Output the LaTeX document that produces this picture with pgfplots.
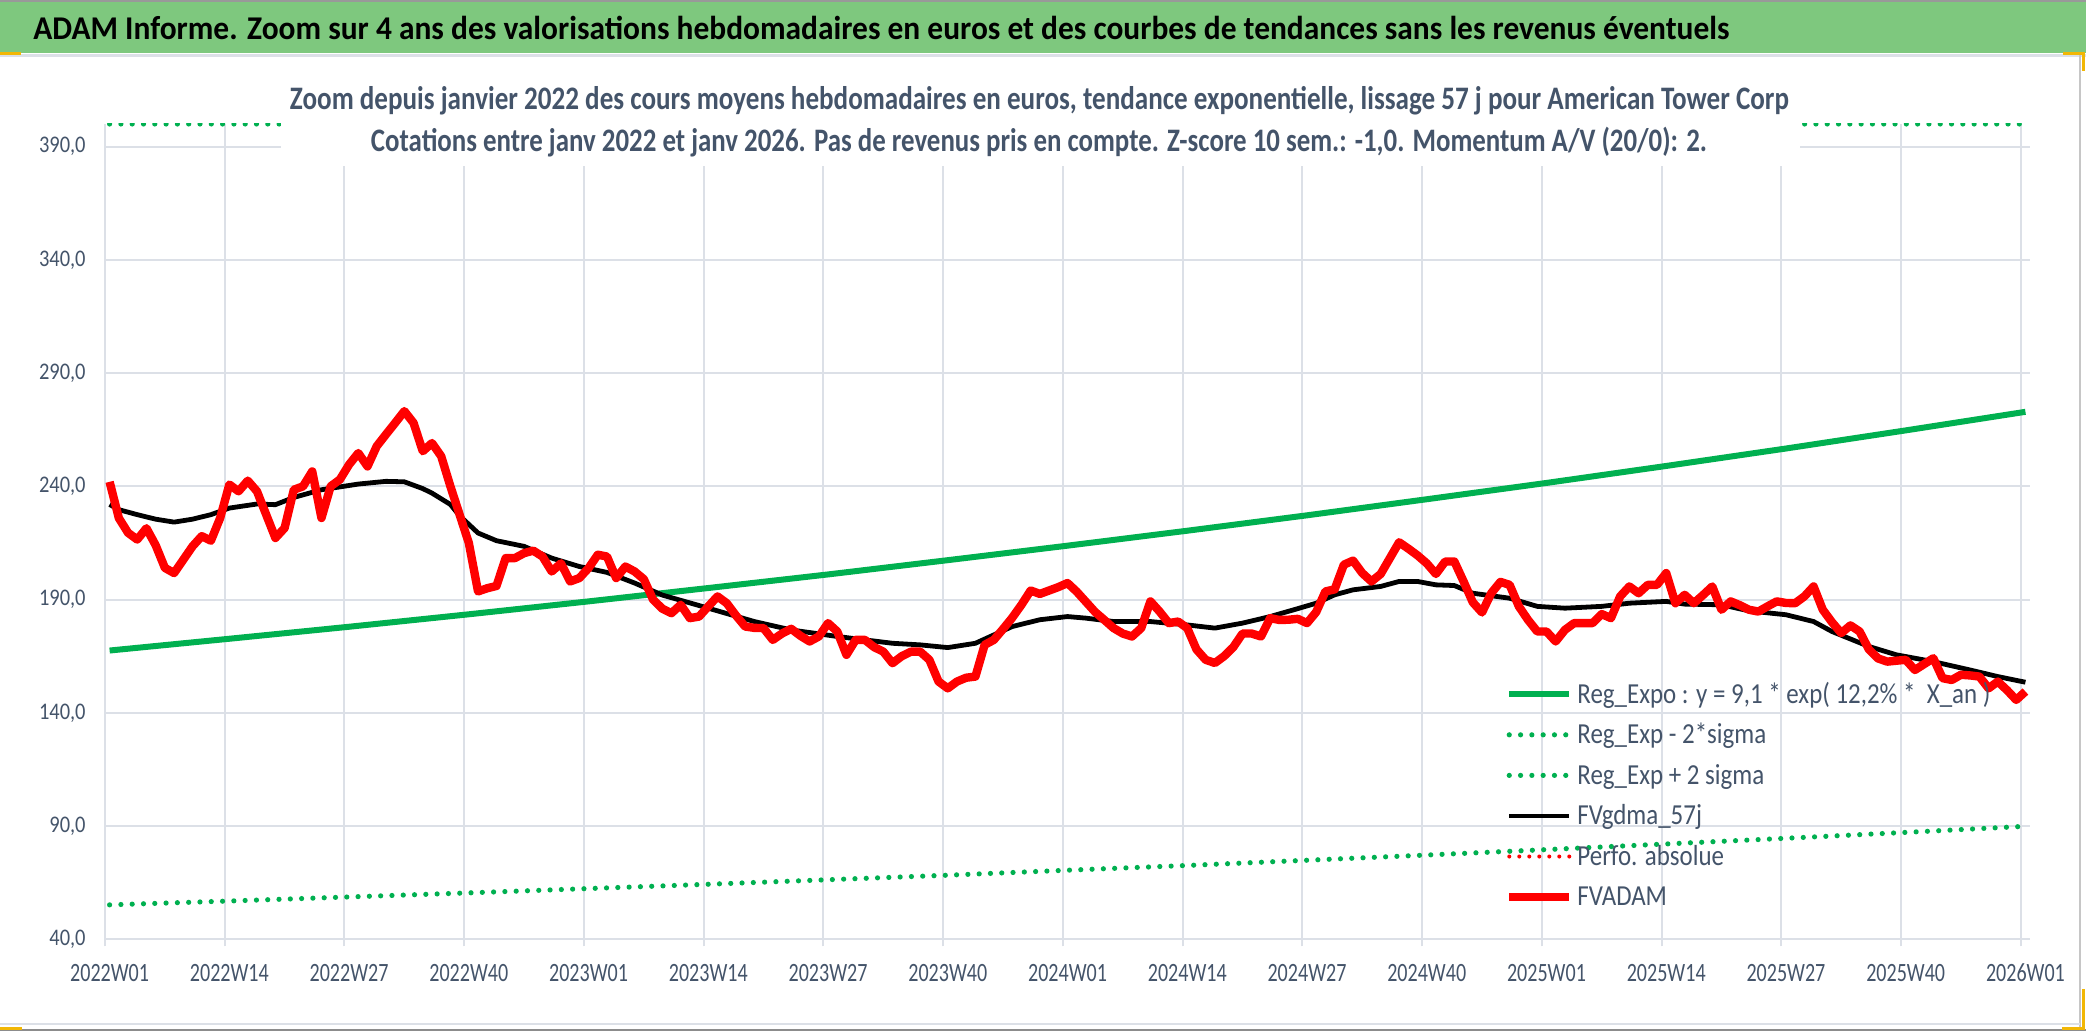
\documentclass[border=0pt]{standalone}
\usepackage{fontspec}
\setmainfont{Carlito}
\newfontfamily\legfont[FakeStretch=0.86]{Carlito}
\newfontfamily\ytfont[FakeStretch=0.86]{Carlito}
\newfontfamily\xtfont[FakeStretch=0.76]{Carlito}
\usepackage{graphicx}
\usepackage{pgfplots}
\pgfplotsset{compat=1.18}
\definecolor{banner}{HTML}{7EC87E}
\definecolor{txtgray}{HTML}{44546A}
\definecolor{gridc}{HTML}{DCE0E7}
\definecolor{xlgreen}{HTML}{00B050}
\definecolor{handle}{HTML}{F2B705}
\begin{document}
\begin{tikzpicture}[x=1bp,y=1bp]
\useasboundingbox (0,0) rectangle (1043,515.5);
\fill[white] (0,0) rectangle (1043,515.5);
% banner
\fill[banner] (0,489.2) rectangle (1043,515.5);
\draw[gray!80, line width=1bp] (0,515) -- (1043,515);
\draw[gridc, line width=1.5bp] (0,487.8) -- (1043,487.8);
\draw[gray!45, line width=1bp] (1040,488) -- (1040,1);
\draw[gridc, line width=1.2bp] (0,3.5) -- (1040,3.5);
\draw[gray!90, line width=1bp] (0,0.5) -- (1043,0.5);
\node[anchor=base west, inner sep=0pt] at (16.5,495.85)
  {\resizebox{848bp}{\height}{\fontsize{16.6bp}{18bp}\selectfont\bfseries ADAM Informe. Zoom sur 4 ans des valorisations hebdomadaires en euros et des courbes de tendances sans les revenus éventuels}};

\begin{axis}[
  at={(52.5bp,45.85bp)}, anchor=south west,
  scale only axis, width=962.5bp, height=407.65bp,
  xmin=-0.5, xmax=208.5, ymin=40, ymax=400,
  clip=true,
  axis line style={draw=none},
  tick pos=left, tick align=inside, major tick length=3.5bp,
  xtick={-0.5,12.5,...,207.5},
  xticklabels={},
  xtick style={gridc, line width=1bp, yshift=-3.5bp},
  ytick={40,90,...,390},
  ytick style={draw=none},
  xmajorgrids, ymajorgrids,
  major grid style={gridc, line width=1bp},
  extra x ticks={0,13,...,208},
  extra x tick labels={2022W01,2022W14,2022W27,2022W40,2023W01,2023W14,2023W27,2023W40,2024W01,2024W14,2024W27,2024W40,2025W01,2025W14,2025W27,2025W40,2026W01},
  extra x tick style={grid=none, major tick length=0pt,
    xticklabel style={anchor=base, inner sep=0pt, yshift=-20.9bp, text=txtgray, font=\xtfont\fontsize{13.2bp}{14bp}\selectfont}},
  yticklabel style={/pgf/number format/.cd, fixed, fixed zerofill, precision=1, use comma, assume math mode=true, /tikz/.cd,
    anchor=east, inner sep=0pt, xshift=-9.5bp, text=txtgray, font=\ytfont\fontsize{11.9bp}{13bp}\selectfont},
  legend cell align=left,
  legend style={at={(0.7273,0.3205)}, anchor=north west, draw=none, fill=none,
    inner sep=0pt, outer sep=0pt, row sep=4.4bp, column sep=0bp,
    font=\legfont\fontsize{14.5bp}{15bp}\selectfont\rule[-3.6bp]{0pt}{14bp}, text=txtgray},
  legend image code/.code={\draw[#1] (0bp,0bp) -- (30bp,0bp);},
]
% Reg_Expo
\addplot[xlgreen, line width=3bp] coordinates {
(0,167.5)(13,172.7)(26,178.0)(39,183.5)(52,189.2)(65,195.1)(78,201.1)(91,207.4)(104,213.8)(117,220.4)(130,227.2)(143,234.3)(156,241.5)(169,249.0)(182,256.7)(195,264.7)(208,272.9)};
\addlegendentry{Reg\_Expo : y = 9,1 * exp( 12,2\% *~ X\_an )}
% Reg_Exp - 2 sigma
\addplot[xlgreen, line width=2.6bp, line cap=round, dash pattern=on 0bp off 5.65bp] coordinates {
(0,55.2)(13,56.9)(26,58.7)(39,60.5)(52,62.4)(65,64.3)(78,66.3)(91,68.3)(104,70.5)(117,72.6)(130,74.9)(143,77.2)(156,79.6)(169,82.1)(182,84.6)(195,87.2)(208,89.9)};
\addlegendentry{Reg\_Exp - 2*sigma}
% Reg_Exp + 2 sigma (drawn at the top edge of the plot area)
\addplot[xlgreen, line width=2.6bp, line cap=round, dash pattern=on 0bp off 5.65bp] coordinates {
(0,400)(52,400)(104,400)(156,400)(208,400)};
\addlegendentry{Reg\_Exp + 2 sigma}
% FVgdma_57j
\addplot[black, line width=2.4bp, line join=round] coordinates {
(0,232)(1,229.7)(3,227.5)(5,225.5)(7,224.2)(9,225.5)(11,227.5)(13,230.4)(16,232.2)(18,231.9)(20,235.1)(23,238.5)(27,241)(30,242.2)(32,242)(34,239)(35,237)(37,232)(38,227)(40,219.4)(42,216)(45,213.5)(48,208.3)(51,204.6)(54,202)(57,197.3)(60,192)(65,186.2)(70,180.3)(74,176.6)(79,173.7)(85,170.7)(88,170)(91,168.8)(94,170.7)(96,174.4)(98,178.1)(101,181.1)(104,182.5)(106,181.8)(109,180.3)(113,180.3)(117,178.8)(120,177.4)(123,179.6)(126,182.5)(129,186)(131,188.4)(133,192.1)(135,194.3)(138,195.8)(140,198)(142,198)(144,196.5)(146,196.2)(148,192.8)(152,190.6)(155,187)(158,186.2)(162,187)(165,188.4)(169,189.2)(171,188)(175,187.7)(178,185)(182,183.3)(185,180.3)(187,175.9)(191,169.3)(194,165.6)(198,162.6)(202,158.9)(205,156)(208,153.5)};
\addlegendentry{FVgdma\_57j}
\addlegendimage{red, line width=2bp, line cap=round, dash pattern=on 0bp off 5bp}
\addlegendentry{Perfo. absolue}
% FVADAM
\addplot[red, line width=4.2bp, line join=round] coordinates {
(0,242)(1,226)(2,219.5)(3,216.5)(4,221.5)(5,214)(6,204)(7,201.7)(8,207.6)(9,213.5)(10,218)(11,216)(12,226)(13,240.8)(14,237.8)(15,242.5)(16,237.8)(17,227.5)(18,217.2)(19,221.6)(20,238.5)(21,240)(22,246.6)(23,226)(24,240)(25,243)(26,249.6)(27,254.7)(28,248.8)(29,257.7)(30,262.9)(31,268)(32,273.2)(33,268)(34,255.5)(35,259.1)(36,253.3)(37,240)(38,227.5)(39,215)(40,193.6)(41,195)(42,196)(43,208.3)(44,208.3)(45,210.5)(46,211.6)(47,209)(48,202.4)(49,206)(50,198)(51,199.5)(52,203.9)(53,209.8)(54,209)(55,199.5)(56,204.6)(57,202.4)(58,199)(59,190)(60,186)(61,184)(62,187.7)(63,181.8)(64,182.5)(65,187)(66,191.4)(67,188.4)(68,183)(69,178.1)(70,177.5)(71,177.4)(72,172.2)(73,175)(74,177.1)(75,174)(76,171.5)(77,173.7)(78,179.6)(79,175.9)(80,165.6)(81,172.2)(82,172.2)(83,169)(84,167)(85,161.9)(86,165)(87,167)(88,167)(89,163.4)(90,153.8)(91,150.8)(92,153.8)(93,155.5)(94,156)(95,170)(96,172.2)(97,177)(98,182)(99,187.7)(100,194)(101,192.5)(102,194)(103,195.5)(104,197.3)(105,193.5)(106,189)(107,184.5)(108,181)(109,177.4)(110,175)(111,173.7)(112,177.4)(113,189.2)(114,184.7)(115,179.6)(116,180.3)(117,177.4)(118,168)(119,163.4)(120,162)(121,165)(122,169)(123,175)(124,175)(125,173.7)(126,181.8)(127,181)(128,181.1)(129,181.5)(130,179.6)(131,184.5)(132,193.6)(133,194.5)(134,205.4)(135,207.2)(136,201.7)(137,198)(138,201.3)(139,208.3)(140,215.3)(141,212.5)(142,209.5)(143,206)(144,201.3)(145,206.8)(146,206.8)(147,198)(148,188.8)(149,184.3)(150,192.8)(151,197.8)(152,196.5)(153,187)(154,181)(155,175.9)(156,175.9)(157,171.5)(158,176.6)(159,179.6)(160,179.6)(161,179.6)(162,183.6)(163,181.8)(164,191.4)(165,195.8)(166,192.8)(167,196.5)(168,196.5)(169,201.7)(170,188.4)(171,192.1)(172,188.4)(173,192)(174,195.8)(175,185.5)(176,189.2)(177,187.5)(178,185.5)(179,184.7)(180,187)(181,189.2)(182,188.5)(183,188.4)(184,191.4)(185,195.8)(186,185.5)(187,180)(188,175.2)(189,178.6)(190,175.9)(191,168)(192,164)(193,162.6)(194,163)(195,163.4)(196,158.9)(197,161.5)(198,164.1)(199,155.3)(200,154.5)(201,156.8)(202,156.5)(203,156)(204,150.8)(205,153.8)(206,150)(207,145.7)(208,149.4)};
\addlegendentry{FVADAM}
\end{axis}

% subtitle box over the plot
\fill[white] (140.5,432.5) rectangle (900,480.5);
\node[anchor=base, inner sep=0pt, text=txtgray] at (519.75,460.5)
  {\resizebox{749.5bp}{\height}{\fontsize{16.4bp}{18bp}\selectfont\bfseries Zoom depuis janvier 2022 des cours moyens hebdomadaires en euros, tendance exponentielle, lissage 57 j pour American Tower Corp}};
\node[anchor=base, inner sep=0pt, text=txtgray] at (519.5,439.65)
  {\resizebox{668bp}{\height}{\fontsize{16.4bp}{18bp}\selectfont\bfseries Cotations entre janv 2022 et janv 2026. Pas de revenus pris en compte. Z-score 10 sem.: -1,0. Momentum A/V (20/0): 2.}};

% selection handles
\draw[handle, line width=1.5bp] (0,488.6) -- (10.5,488.6);
\draw[handle, line width=1.5bp] (1031.5,488.6) -- (1041.7,488.6) -- (1041.7,480);
\draw[handle, line width=1.5bp] (0,1.2) -- (11,1.2);
\draw[handle, line width=1.5bp] (1031,1.2) -- (1041.7,1.2) -- (1041.7,21);
\end{tikzpicture}
\end{document}
